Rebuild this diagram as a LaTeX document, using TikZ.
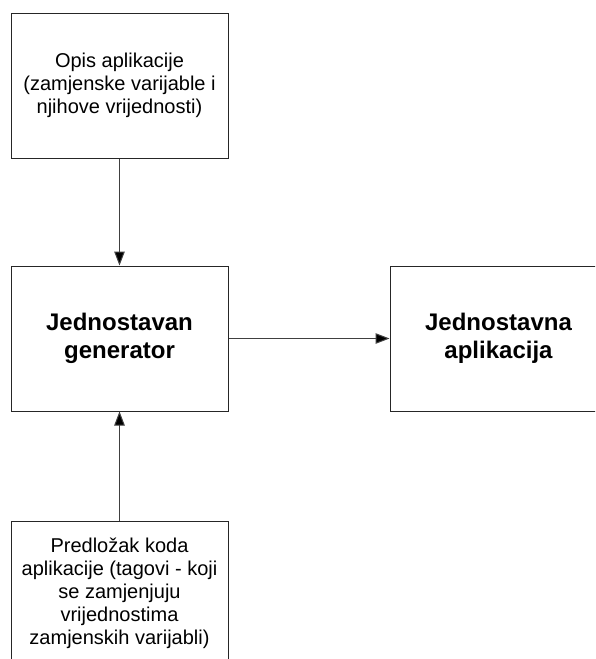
\documentclass[tikz,border=0pt]{standalone}
\usepackage{fontspec}
\setmainfont{Liberation Sans}
\usetikzlibrary{arrows.meta}
\begin{document}
\begin{tikzpicture}[x=1pt,y=-1pt,
  boxnode/.style={draw=black!85, line width=1pt, rectangle, minimum width=217pt, minimum height=145pt, inner sep=0pt, align=center},
  plaintext/.style={font=\fontsize{20pt}{23pt}\selectfont},
  boldtext/.style={font=\fontsize{24pt}{28pt}\selectfont\bfseries},
  conn/.style={draw=black!75, line width=1pt, -{Triangle[length=14pt,width=10.5pt,fill=black]}}]
\clip (0,0) rectangle (595,659);
\fill[white] (0,0) rectangle (595,659);
\node[boxnode, plaintext] (opis) at (119.5,85.5) {Opis aplikacije\\(zamjenske varijable i\\njihove vrijednosti)};
\node[boxnode, boldtext] (gen) at (119.5,338.5) {Jednostavan\\generator};
\node[boxnode, boldtext] (app) at (498.5,338.5) {Jednostavna\\aplikacija};
\node[boxnode, plaintext] (pred) at (119.5,593.5) {Predložak koda\\aplikacije (tagovi - koji\\se zamjenjuju\\vrijednostima\\zamjenskih varijabli)};
\draw[conn] (opis) -- (gen);
\draw[conn] (pred) -- (gen);
\draw[conn] (gen) -- (app);
\end{tikzpicture}
\end{document}
